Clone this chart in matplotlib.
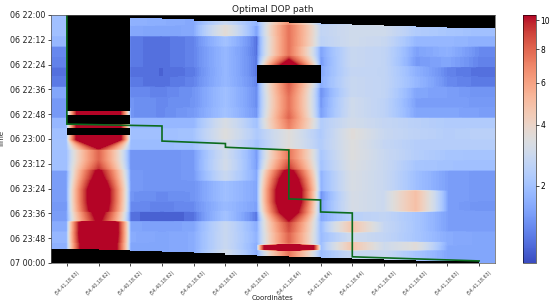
import numpy as np
import matplotlib
matplotlib.use("Agg")
import matplotlib.pyplot as plt
from matplotlib.cm import ScalarMappable
from matplotlib.colors import PowerNorm

x_labels = ["(54.41,18.63)", "(54.40,18.62)", "(54.40,18.62)", "(54.40,18.62)",
            "(54.40,18.63)", "(54.40,18.63)", "(54.40,18.63)", "(54.41,18.64)",
            "(54.41,18.64)", "(54.41,18.64)", "(54.41,18.63)", "(54.41,18.63)",
            "(54.41,18.63)", "(54.41,18.63)"]
time_labels = ["06 22:00", "06 22:12", "06 22:24", "06 22:36", "06 22:48", "06 23:00",
               "06 23:12", "06 23:24", "06 23:36", "06 23:48", "07 00:00"]
time_ticks = [0, 12, 24, 36, 48, 60, 72, 84, 96, 108, 120]

# band limits in minutes after 22:00
band_start = [0, 5, 10, 15, 20, 25, 30, 35, 40, 45, 50, 55, 60, 65, 70, 75, 80, 85, 90, 95,
              100, 105, 110, 111.3, 113.7]
band_end = [5, 10, 15, 20, 25, 30, 35, 40, 45, 50, 55, 60, 65, 70, 75, 80, 85, 90, 95, 100,
            105, 110, 111.3, 113.7, 120]

# DOP per band for columns 0, 2, 3, 4, 5, 6, 8, 9, 10, 11, 12, 13
band_dop = [
    [1.95, 1.73, 1.66, 1.59, 2.78, 1.73, 2.19, 2.78, 3.23, 2.11, 1.95, 1.95],
    [1.95, 1.59, 1.53, 1.59, 3.60, 1.46, 2.61, 2.96, 2.96, 2.27, 2.11, 1.95],
    [1.80, 1.20, 1.16, 1.25, 2.00, 1.14, 2.52, 2.96, 2.78, 1.80, 1.80, 1.70],
    [1.30, 1.20, 1.16, 1.25, 1.80, 1.16, 1.50, 2.78, 2.61, 1.50, 1.70, 1.30],
    [1.25, 1.20, 1.16, 1.25, 1.80, 1.18, 1.42, 2.78, 2.61, 1.42, 1.55, 1.25],
    [1.18, 1.16, 1.14, 1.20, 1.80, 1.18, 1.55, 2.69, 2.61, 1.70, 1.25, 1.16],
    [1.20, 1.20, 1.16, 1.25, 1.80, 1.25, 1.62, 2.78, 2.61, 1.80, 1.30, 1.20],
    [1.55, 1.30, 1.25, 1.36, 1.95, 1.30, 1.30, 2.78, 2.61, 1.55, 1.48, 1.36],
    [1.42, 1.36, 1.30, 1.36, 1.95, 1.30, 1.36, 2.96, 2.52, 1.48, 1.48, 1.42],
    [1.42, 1.36, 1.30, 1.42, 2.00, 1.36, 1.42, 2.96, 2.52, 1.55, 1.55, 1.48],
    [1.80, 1.80, 1.80, 1.80, 3.23, 1.95, 2.27, 3.05, 2.69, 2.44, 2.27, 2.27],
    [1.95, 1.95, 1.95, 2.03, 3.42, 2.19, 2.19, 3.52, 2.78, 2.52, 2.35, 2.44],
    [2.03, 1.88, 1.88, 1.95, 3.15, 2.03, 2.27, 3.42, 2.69, 2.35, 2.35, 2.35],
    [1.95, 1.36, 1.36, 1.42, 2.96, 1.42, 2.10, 3.42, 2.78, 2.35, 2.10, 2.05],
    [1.95, 1.36, 1.36, 1.42, 3.05, 1.42, 2.00, 3.32, 2.78, 2.10, 2.00, 1.95],
    [1.48, 1.42, 1.36, 1.42, 2.78, 1.55, 1.70, 3.23, 2.78, 1.95, 1.48, 1.42],
    [1.48, 1.42, 1.36, 1.36, 1.95, 1.55, 1.70, 3.23, 2.78, 1.95, 1.48, 1.42],
    [1.48, 1.36, 1.30, 1.36, 1.95, 1.55, 1.30, 3.15, 2.85, 4.90, 1.48, 1.42],
    [1.42, 1.30, 1.25, 1.30, 1.85, 1.48, 1.42, 3.15, 2.85, 4.90, 1.48, 1.36],
    [1.48, 1.16, 1.10, 1.16, 2.00, 1.16, 1.55, 2.44, 2.61, 2.10, 1.48, 1.48],
    [1.62, 1.55, 1.48, 1.55, 2.78, 1.62, 1.80, 4.67, 2.69, 2.10, 1.48, 1.48],
    [1.80, 1.62, 1.55, 1.62, 2.78, 1.70, 1.85, 2.96, 2.61, 2.10, 1.62, 1.55],
    [1.70, 1.55, 1.55, 1.62, 2.78, 1.62, 1.85, 4.67, 2.90, 3.52, 1.62, 1.55],
    [1.70, 1.55, 1.55, 1.62, 2.78, 1.62, 1.85, 4.67, 2.90, 3.52, 1.55, 1.55],
    [1.70, 1.55, 1.55, 1.62, 3.05, 1.62, 1.85, 2.78, 2.78, 2.10, 1.55, 1.55],
]

# columns 1 and 7 change inside a band: value at the top and bottom of each band
col1_top = [5, 5, 5, 5, 5, 5, 5, 5, 5, 30, 30, 30, 30, 8, 8, 11, 13, 15, 15, 12.5, 24, 24, 22, 22, 22]
col1_bot = [5, 5, 5, 5, 5, 5, 5, 5, 5, 30, 30, 30, 10, 8, 9.5, 12.5, 15, 15, 14, 11, 24, 23, 22, 22, 22]
col7_top = [6.5, 7.5, 7.5, 7.5, 8.5, 14, 8.5, 8, 7.5, 7.5, 7.5, 3.5, 3.5, 7.5, 8, 11.5, 14, 16, 16, 14, 9, 8, 7.5, 40, 7.5]
col7_bot = [6.5, 7.5, 7.5, 7.5, 14, 8.5, 8, 7.5, 7.5, 8, 7, 3.5, 3.5, 7.5, 9.5, 14, 16, 16, 14, 10, 8.5, 8, 7.5, 40, 7.5]

# no-data areas, minutes after 22:00
top_edges = [2, 3, 4, 5, 6, 7, 8, 9, 10, 11, 12, 13.5]
top_black = [1.45, 1.9, 2.7, 2.9, 3.4, 3.9, 4.4, 4.8, 5.3, 5.8, 6.3]
bottom_edges = [-0.5, 1, 2, 3, 4, 5, 6, 7, 8, 9, 10, 11, 12, 13]
bottom_black = [113.2, 113.7, 114.4, 114.9, 115.4, 115.9, 116.4, 117, 117.6, 118.1, 118.6, 118.8, 119.1]
block_left = [0, 0, 0, 6]
block_right = [2, 2, 2, 8]
block_start = [0, 48.2, 54.8, 24.2]
block_end = [46.6, 52.8, 58, 33]

path_col = [0, 0, 3, 3, 5, 5, 7, 7, 8, 8, 9, 9, 13]
path_min = [0, 52.8, 53.7, 61, 62.2, 64, 65.3, 89, 89.5, 95.3, 95.8, 117, 119]

band_dop = np.array(band_dop)
band_z = np.repeat(band_dop, 2, axis=0)
z = np.column_stack([band_z[:, 0],
                     np.ravel(np.column_stack([col1_top, col1_bot])),
                     band_z[:, 1:6],
                     np.ravel(np.column_stack([col7_top, col7_bot])),
                     band_z[:, 6:]])
z = np.column_stack([z[:, 0], z, z[:, -1]])
xs = np.r_[-0.5, np.arange(14), 13.5]
ys = np.ravel(np.column_stack([band_start, band_end]))
ys = ys + np.tile([0.25, -0.25], len(band_start))
ys[0], ys[-1] = 0, 120

norm = PowerNorm(0.5, vmin=1.1, vmax=10.4)

fig = plt.figure(figsize=(5.5, 3.04), dpi=100)
ax = fig.add_axes([51 / 550, 1 - 263 / 304, 444 / 550, 248 / 304])
ax.contourf(xs, ys, z, levels=np.linspace(1.1, 10.4, 220), cmap="coolwarm", norm=norm, extend="both")

ax.stairs(top_black, top_edges, baseline=0, fill=True, color="black", lw=0)
ax.stairs(bottom_black, bottom_edges, baseline=120, fill=True, color="black", lw=0)
for l, r, s, e in zip(block_left, block_right, block_start, block_end):
    ax.fill_between([l, r], s, e, color="black", lw=0)
ax.plot(path_col, path_min, color="#0b6b1e", lw=1.2, solid_joinstyle="miter")

ax.set_xlim(-0.5, 13.5)
ax.set_ylim(120, 0)
ax.set_xticks(range(14))
ax.set_xticklabels(x_labels, rotation=45, fontsize=3.4, color="#444444")
ax.set_yticks(time_ticks)
ax.set_yticklabels(time_labels, fontsize=5.8, color="#222222")
ax.tick_params(length=2, width=0.5, pad=2)
ax.tick_params(axis="x", pad=3)
ax.set_title("Optimal DOP path", fontsize=6.5, pad=2.5, color="#222222")
ax.set_xlabel("Coordinates", fontsize=5, color="#222222")
ax.xaxis.set_label_coords(0.5, -0.13)
ax.set_ylabel("Time", fontsize=5, color="#222222")
ax.yaxis.set_label_coords(-0.104, 0.5)
for s in ax.spines.values():
    s.set_linewidth(0.5)
    s.set_color("#555555")

cax = fig.add_axes([523 / 550, 1 - 263 / 304, 13 / 550, 248 / 304])
cb = fig.colorbar(ScalarMappable(norm=norm, cmap="coolwarm"), cax=cax)
cb.set_ticks([2, 4, 6, 8, 10])
cb.minorticks_off()
cb.ax.tick_params(labelsize=5.5, length=2, width=0.5, pad=1)
cb.outline.set_linewidth(0.4)

plt.savefig("out.png", dpi=100)
